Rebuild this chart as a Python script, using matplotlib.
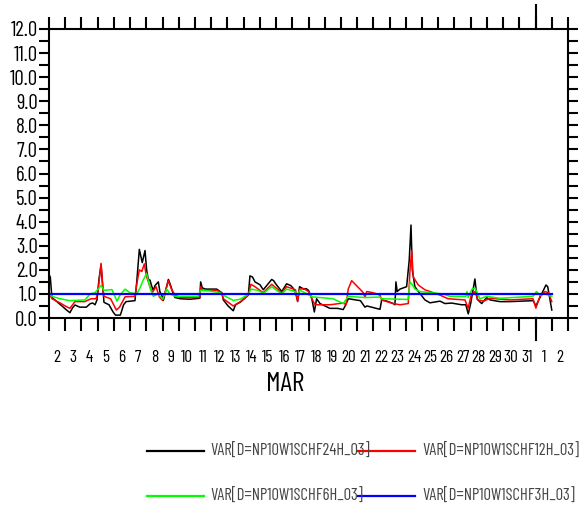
import numpy as np
import matplotlib
matplotlib.use("Agg")
import matplotlib.pyplot as plt
from matplotlib.lines import Line2D
import matplotlib.transforms as mtransforms

FONT = ['Barlow Condensed', 'Roboto Condensed', 'DejaVu Sans']

# time in days since 2 MAR 00:00
t_black = [0.00, 0.08, 0.18, 0.45, 0.80, 1.05, 1.29, 1.45, 1.60, 1.90, 2.30, 2.55, 2.70, 2.84, 2.96,
           3.08, 3.21, 3.30, 3.39, 3.70, 3.95, 4.10, 4.40, 4.60, 4.75, 5.30, 5.41, 5.57, 5.75, 5.92,
           6.02, 6.12, 6.23, 6.32, 6.43, 6.54, 6.74, 6.84, 6.95, 7.05, 7.15, 7.36, 7.50, 7.66, 7.77,
           8.10, 8.70, 9.30, 9.35, 9.45, 9.65, 10.34, 10.65, 10.75, 11.04, 11.36, 11.50, 11.80, 12.29,
           12.39, 12.55, 12.70, 13.01, 13.21, 13.73, 13.85, 14.00, 14.35, 14.65, 14.90, 15.05, 15.20,
           15.33, 15.45, 15.70, 15.85, 16.00, 16.20, 16.36, 16.50, 16.71, 17.32, 17.80, 18.14, 18.30,
           18.45, 19.20, 19.48, 19.60, 20.41, 20.51, 20.84, 21.23, 21.33, 21.39, 21.47, 21.64, 22.05,
           22.21, 22.32, 22.40, 22.56, 22.87, 23.18, 23.49, 24.11, 24.41, 24.83, 25.44, 25.70, 25.85,
           26.00, 26.26, 26.40, 26.68, 26.98, 27.20, 27.81, 28.42, 29.86, 30.02, 30.27, 30.64, 30.75, 31.00]
v_black = [1.80, 1.70, 0.85, 0.70, 0.50, 0.35, 0.22, 0.42, 0.54, 0.45, 0.45, 0.60, 0.62, 0.55, 0.75,
           1.60, 2.20, 1.40, 0.65, 0.55, 0.25, 0.12, 0.12, 0.55, 0.68, 0.72, 1.50, 2.85, 2.30, 2.80,
           2.00, 1.60, 1.57, 1.35, 1.15, 1.35, 1.50, 1.08, 0.95, 0.73, 1.00, 1.60, 1.35, 1.00, 0.85,
           0.80, 0.78, 0.82, 1.50, 1.25, 1.20, 1.20, 1.05, 0.75, 0.50, 0.30, 0.55, 0.66, 0.95,
           1.75, 1.70, 1.50, 1.38, 1.17, 1.60, 1.55, 1.40, 1.10, 1.42, 1.35, 1.24, 1.05,
           0.70, 1.30, 1.20, 1.22, 1.15, 0.82, 0.25, 0.80, 0.60, 0.40, 0.40, 0.35, 0.55,
           0.80, 0.72, 0.45, 0.50, 0.36, 0.75, 0.70, 0.60, 0.55, 1.50, 1.10, 1.20, 1.30,
           2.40, 3.86, 2.00, 1.30, 1.02, 0.75, 0.63, 0.70, 0.60, 0.62, 0.55, 0.55, 0.17,
           0.60, 1.62, 0.78, 0.60, 0.85, 0.75, 0.68, 0.68, 0.72, 0.50, 0.85, 1.37, 1.30, 0.33]

t_red = [0.00, 0.18, 0.70, 1.00, 1.29, 1.60, 2.20, 2.60, 2.90, 3.02, 3.21, 3.33, 3.39, 3.80, 4.15,
         4.35, 4.69, 5.30, 5.41, 5.57, 5.72, 5.88, 6.00, 6.15, 6.36, 6.60, 6.80, 7.00, 7.36, 7.55,
         7.77, 8.10, 9.30, 9.35, 9.45, 10.34, 10.65, 10.75, 11.36, 11.80, 12.29, 12.45, 12.70, 13.21,
         13.73, 14.35, 14.65, 15.20, 15.33, 15.45, 15.70, 16.00, 16.20, 16.40, 17.32, 18.14, 18.31,
         18.45, 18.66, 19.17, 19.38, 19.48, 19.59, 19.98, 20.41, 20.51, 21.21, 21.64, 22.15, 22.26,
         22.36, 22.46, 22.77, 23.18, 23.49, 24.11, 24.60, 25.65, 25.84, 26.05, 26.26, 26.45, 26.80,
         27.20, 28.42, 29.84, 30.02, 30.27, 30.58, 30.80, 31.00]
v_red = [1.05, 0.80, 0.62, 0.50, 0.40, 0.68, 0.68, 0.80, 0.80, 1.10, 2.27, 1.20, 0.90, 0.80, 0.33,
         0.45, 0.88, 0.90, 1.40, 2.00, 1.93, 2.25, 1.75, 1.45, 1.05, 1.30, 0.88, 0.73, 1.55, 1.20,
         0.95, 0.85, 0.85, 1.30, 1.15, 1.15, 1.05, 0.80, 0.50, 0.68, 0.95, 1.40, 1.30, 1.05,
         1.40, 1.05, 1.30, 1.17, 0.68, 1.20, 1.22, 1.10, 0.82, 0.55, 0.55, 0.62, 0.55,
         1.20, 1.55, 1.20, 1.05, 0.85, 1.10, 1.05, 0.95, 0.75, 0.60, 0.55, 0.60, 2.00,
         2.80, 1.70, 1.37, 1.17, 1.10, 0.95, 0.80, 0.75, 0.40, 1.00, 1.10, 0.75, 0.70,
         0.82, 0.75, 0.80, 0.41, 0.90, 1.10, 1.05, 0.68]

t_green = [0.00, 0.18, 0.68, 1.29, 2.22, 2.53, 2.84, 3.21, 3.39, 3.88, 4.19, 4.38, 4.69, 4.99, 5.41,
           5.61, 5.81, 6.02, 6.23, 6.43, 6.72, 7.01, 7.26, 7.46, 7.77, 9.19, 9.35, 9.93, 10.54, 10.75,
           11.36, 11.78, 12.29, 12.45, 12.88, 13.21, 13.73, 14.35, 14.65, 15.17, 15.33, 15.47, 15.78,
           16.21, 16.71, 17.51, 18.14, 18.45, 19.48, 20.41, 20.51, 22.14, 22.26, 22.44, 22.56, 22.87,
           24.29, 24.71, 25.71, 25.77, 25.85, 26.08, 26.26, 26.57, 26.98, 27.81, 29.84, 30.06, 30.27,
           30.58, 31.00]
v_green = [1.00, 0.90, 0.80, 0.72, 0.75, 1.00, 1.05, 1.35, 1.15, 1.18, 0.70, 0.95, 1.20, 1.05, 1.00,
           1.25, 1.58, 1.85, 1.25, 0.90, 1.00, 0.78, 1.20, 1.00, 0.90, 0.90, 1.15, 1.12, 1.05, 0.95,
           0.73, 0.78, 0.98, 1.20, 1.15, 1.02, 1.30, 1.00, 1.20, 1.10, 0.95, 1.15, 1.05,
           0.88, 0.85, 0.80, 0.60, 0.90, 0.85, 0.87, 0.80, 0.77, 1.50, 1.35, 1.20, 1.10,
           1.00, 0.90, 0.90, 1.10, 0.85, 1.20, 1.25, 0.80, 0.90, 0.82, 0.90, 1.10, 0.95,
           1.00, 0.90]

t_blue = [0.0, 31.0]
v_blue = [1.0, 1.0]

names = ["VAR[D=NP10W1SCHF24H_03]", "VAR[D=NP10W1SCHF12H_03]",
         "VAR[D=NP10W1SCHF6H_03]", "VAR[D=NP10W1SCHF3H_03]"]
colors = ["black", "#ff0000", "#00ff00", "#0000ff"]

day_labels = [str(d) for d in range(2, 32)] + ["1", "2"]
month_start = 30  # 1 APR

fig = plt.figure(figsize=(5.84, 5.12), dpi=100)
ax = fig.add_axes([49 / 584, 1 - 318 / 512, 519 / 584, 289 / 512])

ax.plot(t_black, v_black, color=colors[0], lw=1.1)
ax.plot(t_red, v_red, color=colors[1], lw=1.1)
ax.plot(t_green, v_green, color=colors[2], lw=1.1)
ax.plot(t_blue, v_blue, color=colors[3], lw=1.6)

ax.set_xlim(0, 32)
ax.set_ylim(0, 12)
for s in ax.spines.values():
    s.set_linewidth(1.5)

yt = np.arange(0, 12.01, 0.5)
ax.set_yticks(yt)
ax.set_yticklabels(["%.1f" % y if y % 1 == 0 else "" for y in yt], family=FONT, fontsize=15)
ax.tick_params(axis='y', which='major', direction='out', length=7, width=1.5,
               left=True, right=True, pad=1)

ax.set_xticks(np.arange(0, 33))
ax.set_xticklabels([])
ax.set_xticks(np.arange(len(day_labels)) + 0.5, minor=True)
ax.set_xticklabels(day_labels, minor=True, family=FONT, fontsize=12.5)
ax.tick_params(axis='x', which='major', direction='out', length=9, width=1.5, top=True, bottom=True)
ax.tick_params(axis='x', which='minor', length=0, pad=23)

# month boundary ticks
tr = mtransforms.blended_transform_factory(ax.transData, ax.transAxes)
ax.plot([month_start, month_start], [0, -0.076], color='black', lw=1.5, transform=tr, clip_on=False)
ax.plot([month_start, month_start], [1, 1.083], color='black', lw=1.5, transform=tr, clip_on=False)

fig.text(285 / 584, 1 - 384 / 512, "MAR", family=FONT, fontsize=20, ha='center', va='center')

# legend
leg_pos = [(146.7, 451), (358, 451), (146.7, 496), (358, 496)]
for (x0, y0), name, c in zip(leg_pos, names, colors):
    fig.add_artist(Line2D([x0 / 584, (x0 + 57) / 584], [1 - y0 / 512, 1 - y0 / 512],
                          color=c, lw=1.6))
    fig.text((x0 + 64) / 584, 1 - y0 / 512, name, family=FONT, fontsize=12,
             color='#444444', ha='left', va='center')

fig.savefig("out.png", dpi=100)
